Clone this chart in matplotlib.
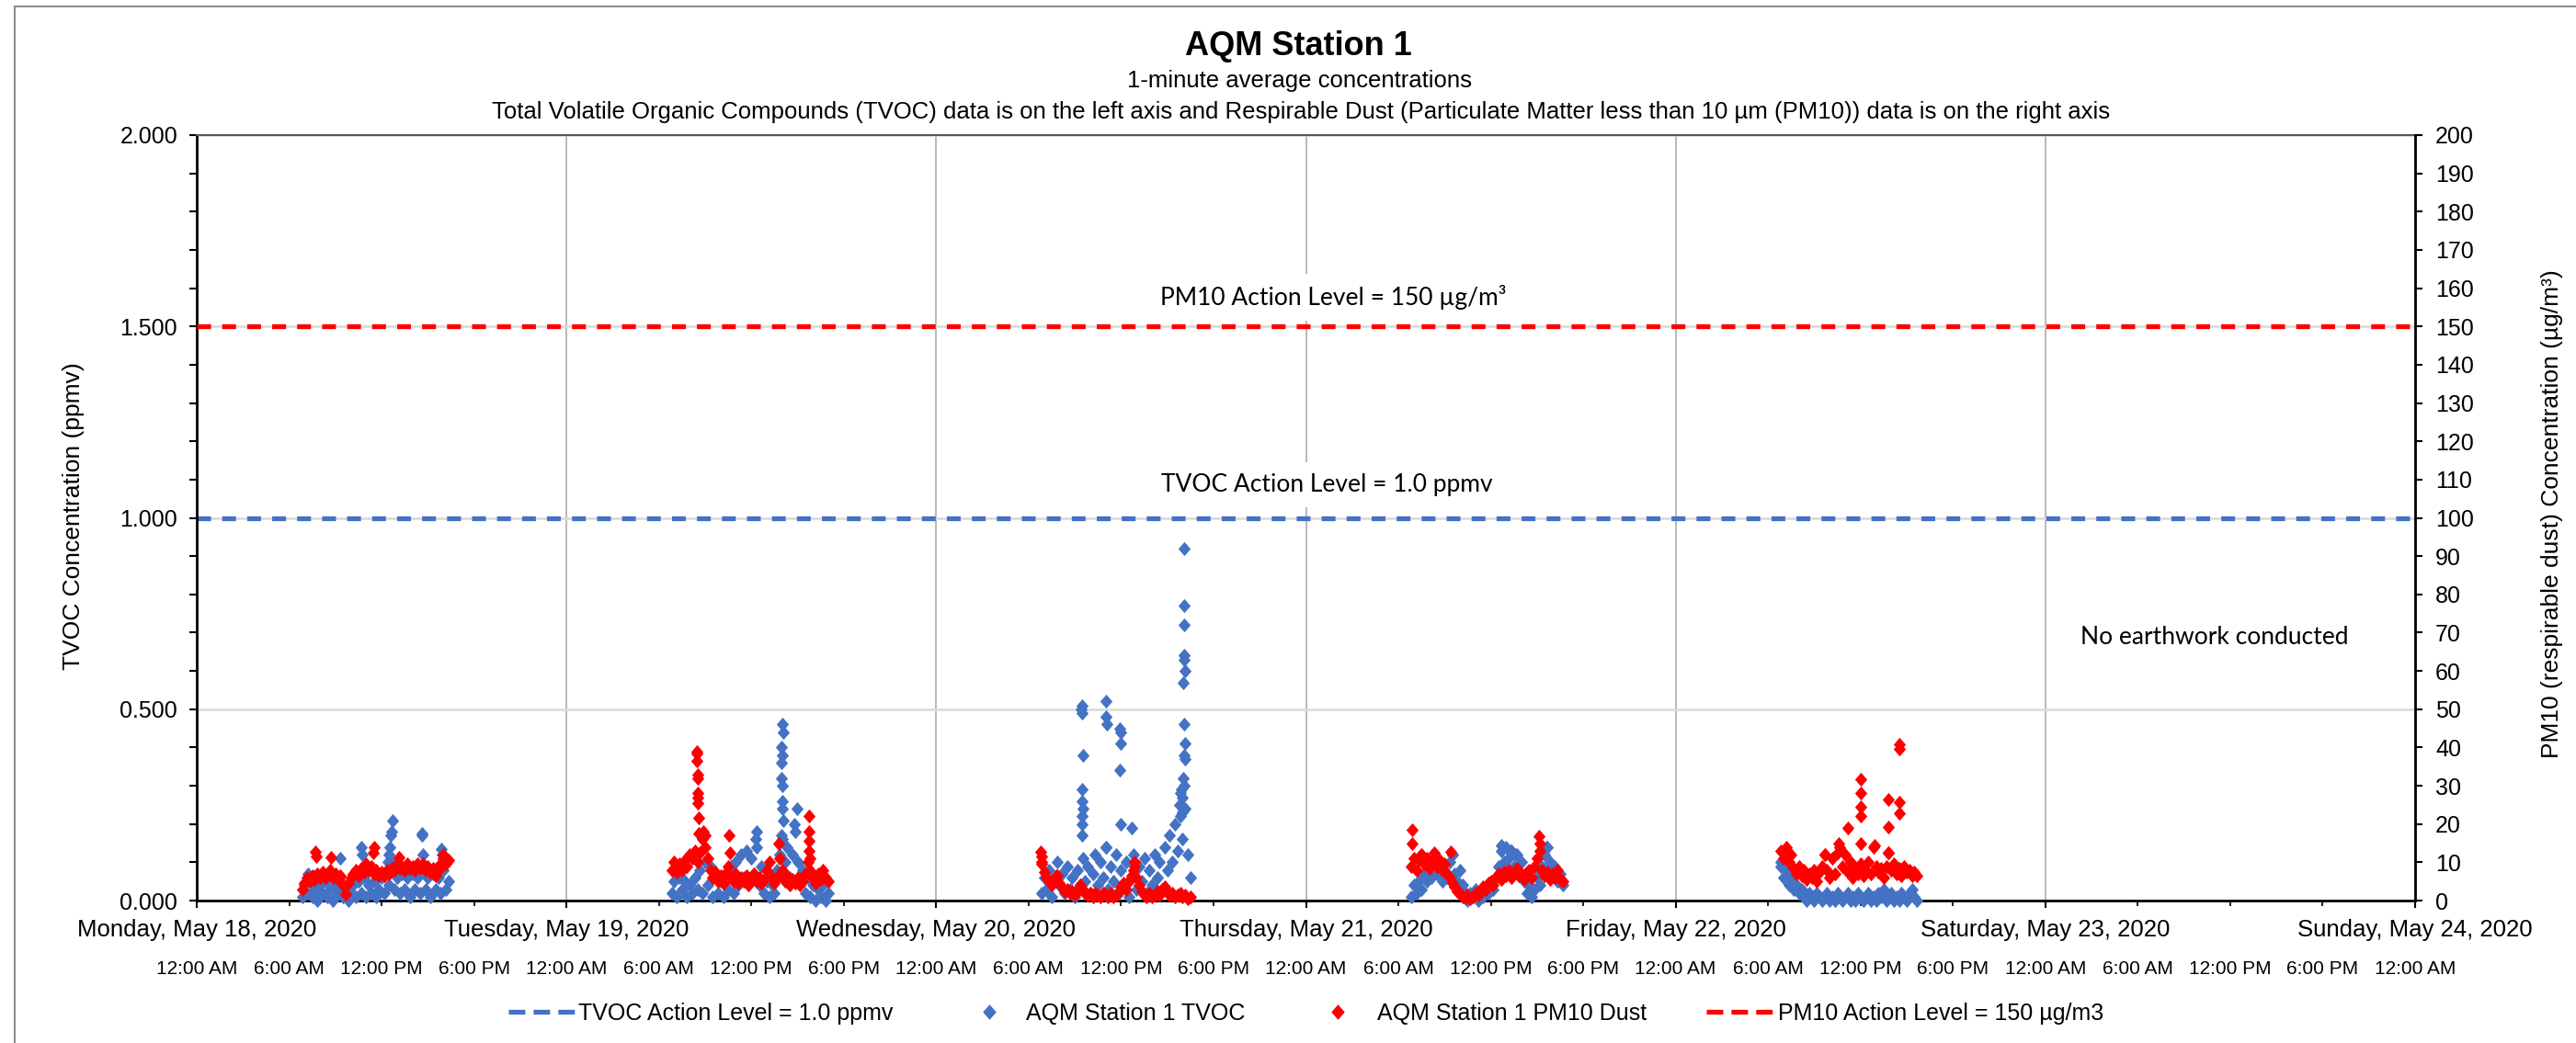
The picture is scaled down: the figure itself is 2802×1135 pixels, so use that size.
import numpy as np
import matplotlib
matplotlib.use('Agg')
from matplotlib import pyplot as plt
from matplotlib.lines import Line2D
from matplotlib.path import Path
from matplotlib.patches import Rectangle
from matplotlib.ticker import MultipleLocator, FormatStrFormatter
import matplotlib.transforms as mtransforms

plt.rcParams['font.family'] = ['Liberation Sans', 'DejaVu Sans']

day_labels = ['Monday, May 18, 2020', 'Tuesday, May 19, 2020', 'Wednesday, May 20, 2020',
              'Thursday, May 21, 2020', 'Friday, May 22, 2020', 'Saturday, May 23, 2020',
              'Sunday, May 24, 2020']
time_labels = ['12:00 AM', '6:00 AM', '12:00 PM', '6:00 PM'] * 6 + ['12:00 AM']

tvoc_action = 1.0     # ppmv
pm10_action = 150     # ug/m3

# readings every 10 minutes from 6:50 AM on each working day
start_hour = 6 + 50 / 60

mon_tvoc = [0.01, 0.04, 0.02, 0.05, 0.01, 0.03, 0.00, 0.04, 0.02, 0.05,
            0.01, 0.03, 0.00, 0.04, 0.02, 0.06, 0.01, 0.03, 0.00, 0.02,
            0.04, 0.01, 0.05, 0.02, 0.06, 0.01, 0.04, 0.02, 0.05, 0.01,
            0.03, 0.06, 0.02, 0.08, 0.04, 0.10, 0.03, 0.06, 0.02, 0.07,
            0.03, 0.06, 0.01, 0.07, 0.03, 0.06, 0.02, 0.08, 0.03, 0.06,
            0.01, 0.07, 0.03, 0.06, 0.02, 0.08, 0.03, 0.05]
mon_pm10 = [3.0, 4.5, 6.0, 5.0, 6.5, 5.5, 7.0, 6.0, 7.5, 6.0,
            7.0, 8.0, 6.0, 7.0, 5.5, 6.5, 4.0, 1.7, 4.5, 6.0,
            7.0, 8.0, 6.5, 8.5, 7.5, 9.5, 8.0, 9.0, 7.0, 8.0,
            6.5, 7.5, 6.5, 8.0, 7.0, 8.5, 8.0, 9.5, 8.5, 9.0,
            8.0, 9.5, 8.5, 9.0, 8.0, 9.5, 8.5, 9.5, 8.0, 9.0,
            7.5, 8.5, 6.5, 8.0, 9.5, 11.0, 9.5, 10.5]

tue_tvoc = [0.02, 0.05, 0.01, 0.06, 0.03, 0.05, 0.01, 0.04, 0.02, 0.06,
            0.03, 0.08, 0.02, 0.10, 0.04, 0.09, 0.01, 0.06, 0.02, 0.05,
            0.01, 0.07, 0.03, 0.09, 0.02, 0.10, 0.04, 0.12, 0.06, 0.13,
            0.05, 0.11, 0.07, 0.14, 0.04, 0.09, 0.02, 0.05, 0.01, 0.04,
            0.02, 0.08, 0.12, 0.16, 0.10, 0.14, 0.06, 0.12, 0.18, 0.10,
            0.05, 0.08, 0.02, 0.06, 0.01, 0.04, 0.00, 0.03, 0.01, 0.04,
            0.00, 0.02]
tue_pm10 = [8.0, 10.0, 7.5, 9.5, 8.0, 10.5, 9.0, 12.0, 11.0, 13.0,
            10.0, 12.5, 16.0, 14.0, 11.0, 8.0, 6.0, 7.5, 5.0, 6.5,
            4.5, 7.0, 9.0, 6.0, 5.0, 7.0, 4.5, 6.0, 5.0, 6.5,
            4.0, 5.5, 7.0, 5.0, 6.0, 4.5, 5.5, 8.0, 10.0, 6.0,
            4.5, 6.0, 11.0, 8.0, 5.0, 6.5, 4.0, 5.5, 4.5, 6.0,
            4.0, 5.0, 7.0, 10.0, 8.0, 6.0, 4.5, 7.0, 5.5, 8.0,
            6.0, 5.0]

wed_tvoc = [0.02, 0.06, 0.03, 0.08, 0.01, 0.05, 0.10, 0.04, 0.07, 0.02,
            0.09, 0.03, 0.06, 0.01, 0.08, 0.04, 0.11, 0.05, 0.09, 0.02,
            0.07, 0.12, 0.04, 0.10, 0.06, 0.14, 0.03, 0.09, 0.05, 0.12,
            0.02, 0.08, 0.04, 0.10, 0.01, 0.06, 0.12, 0.03, 0.09, 0.05,
            0.11, 0.02, 0.08, 0.04, 0.12, 0.06, 0.10, 0.03, 0.14, 0.08,
            0.17, 0.10, 0.20, 0.13, 0.22, 0.16, 0.24, 0.12, 0.06]
wed_pm10 = [10.0, 7.5, 6.0, 5.0, 4.0, 5.5, 6.5, 4.5, 3.5, 2.5,
            3.0, 2.0, 2.5, 1.5, 3.0, 4.0, 3.0, 2.0, 1.5, 2.0,
            1.0, 2.0, 1.5, 1.0, 2.0, 1.5, 1.0, 2.0, 1.0, 1.5,
            2.5, 3.5, 4.5, 3.0, 5.0, 6.5, 8.0, 6.0, 4.0, 2.5,
            1.5, 1.0, 2.0, 1.0, 1.5, 2.5, 1.5, 3.0, 3.5, 2.5,
            1.5, 2.0, 1.0, 1.5, 2.0, 1.0, 1.5, 0.5, 1.0]

thu_tvoc = [0.01, 0.04, 0.02, 0.05, 0.03, 0.07, 0.05, 0.09, 0.06, 0.10,
            0.07, 0.09, 0.05, 0.08, 0.06, 0.10, 0.12, 0.07, 0.05, 0.08,
            0.04, 0.02, 0.00, 0.02, 0.01, 0.03, 0.00, 0.02, 0.01, 0.03,
            0.02, 0.04, 0.03, 0.06, 0.09, 0.13, 0.10, 0.14, 0.11, 0.13,
            0.09, 0.12, 0.07, 0.10, 0.05, 0.02, 0.04, 0.01, 0.03, 0.06,
            0.04, 0.09, 0.12, 0.14, 0.10, 0.07, 0.09, 0.05, 0.07, 0.04]
thu_pm10 = [9.0, 11.0, 8.0, 10.5, 12.0, 9.5, 11.0, 8.5, 10.0, 12.5,
            9.0, 10.5, 8.0, 9.5, 7.0, 6.0, 4.5, 3.5, 2.5, 2.0,
            1.0, 0.8, 1.5, 0.5, 1.0, 2.0, 1.5, 2.5, 3.5, 3.0,
            4.5, 5.0, 4.0, 6.0, 7.0, 5.5, 7.5, 6.5, 8.0, 6.0,
            7.5, 8.5, 6.5, 7.0, 5.5, 7.5, 8.0, 6.0, 9.0, 11.0,
            13.0, 8.0, 6.5, 7.5, 5.5, 7.0, 6.0, 8.0, 5.5, 5.0]

fri_tvoc = [0.09, 0.06, 0.08, 0.04, 0.06, 0.03, 0.04, 0.02, 0.03, 0.01,
            0.00, 0.02, 0.01, 0.00, 0.02, 0.01, 0.00, 0.01, 0.02, 0.00,
            0.01, 0.00, 0.02, 0.01, 0.00, 0.01, 0.02, 0.00, 0.01, 0.00,
            0.02, 0.01, 0.00, 0.01, 0.02, 0.00, 0.01, 0.00, 0.02, 0.01,
            0.03, 0.00, 0.01, 0.02, 0.00, 0.01, 0.00, 0.02, 0.01, 0.00,
            0.02, 0.03, 0.01, 0.00]
fri_pm10 = [13.0, 11.0, 14.0, 10.0, 12.0, 8.5, 7.0, 9.0, 6.5, 8.0,
            5.5, 7.0, 6.0, 8.0, 5.0, 7.5, 9.0, 12.0, 8.0, 6.0,
            11.0, 7.0, 12.5, 14.0, 9.0, 12.0, 7.5, 10.0, 6.0, 8.5,
            7.0, 9.5, 6.5, 8.0, 10.0, 7.0, 14.0, 9.0, 7.5, 8.5,
            6.0, 9.0, 12.5, 8.0, 9.5, 7.0, 8.5, 6.5, 9.0, 7.5,
            8.0, 6.5, 7.5, 6.5]

# short bursts above the band: hour of day and reading
mon_tvoc_pk_h = [7.2, 9.3, 10.7, 10.75, 12.4, 12.5, 12.55, 12.6, 12.65, 12.7, 14.6, 14.65, 14.7, 15.9, 15.95]
mon_tvoc_pk = [0.07, 0.11, 0.14, 0.12, 0.10, 0.12, 0.14, 0.17, 0.18, 0.21, 0.175, 0.17, 0.12, 0.135, 0.12]
mon_pm10_pk_h = [7.7, 7.75, 8.7, 11.45, 11.5, 13.1, 16.0]
mon_pm10_pk = [12.8, 11.5, 11.2, 12.5, 14.0, 11.2, 12.0]

tue_tvoc_pk_h = [13.95, 13.96, 13.97, 13.98, 13.99, 14.0, 14.01, 14.02, 14.04, 14.05, 14.06,
                 14.95, 14.8, 12.36, 12.3]
tue_tvoc_pk = [0.32, 0.17, 0.36, 0.40, 0.24, 0.38, 0.26, 0.46, 0.30, 0.44, 0.21,
               0.24, 0.20, 0.18, 0.16]
tue_pm10_pk_h = [8.45, 8.46, 8.48, 8.5, 8.5, 8.52, 8.53, 8.55, 8.56, 8.58, 8.9, 9.0,
                 10.57, 10.6, 13.75, 15.72, 15.74, 15.75, 15.76, 15.8]
tue_pm10_pk = [39.0, 38.5, 36.5, 33.0, 32.0, 28.0, 27.0, 25.5, 21.5, 17.5, 18.0, 17.0,
               17.0, 12.5, 15.0, 15.5, 22.0, 13.0, 18.0, 11.0]

wed_tvoc_pk_h = [9.43, 9.45, 9.47, 9.5, 9.48, 9.46, 9.5, 9.49, 9.45, 9.47,
                 11.0, 11.05, 11.07, 11.0, 11.9, 11.95, 11.97, 11.93, 12.0, 12.7,
                 16.1, 16.12, 16.1, 16.08, 16.1, 16.15, 16.05, 16.12, 16.15, 16.1,
                 16.13, 16.05, 16.08, 15.9, 15.85, 16.0, 15.8, 15.95]
wed_tvoc_pk = [0.50, 0.51, 0.49, 0.38, 0.29, 0.26, 0.24, 0.22, 0.20, 0.17,
               0.52, 0.48, 0.46, 0.14, 0.45, 0.44, 0.41, 0.34, 0.20, 0.19,
               0.92, 0.77, 0.72, 0.64, 0.63, 0.60, 0.57, 0.46, 0.41, 0.38,
               0.37, 0.32, 0.30, 0.29, 0.28, 0.27, 0.25, 0.23]
wed_pm10_pk_h = [6.8, 6.83, 6.85, 7.8, 12.85, 12.9]
wed_pm10_pk = [12.7, 9.6, 11.5, 6.4, 9.0, 10.0]

thu_tvoc_pk_h = [9.5, 12.7, 13.3, 13.6, 15.6]
thu_tvoc_pk = [0.12, 0.145, 0.13, 0.12, 0.14]
thu_pm10_pk_h = [6.9, 6.92, 7.5, 9.4, 15.15, 15.17]
thu_pm10_pk = [18.5, 15.0, 12.0, 12.8, 16.8, 15.0]

fri_tvoc_pk_h = [6.85, 7.0, 7.3]
fri_tvoc_pk = [0.10, 0.09, 0.07]
fri_pm10_pk_h = [9.7, 10.6, 11.2, 12.0, 12.02, 12.0, 12.03, 12.01, 12.9,
                 13.8, 13.82, 13.8, 14.5, 14.52, 14.5, 14.53]
fri_pm10_pk = [12.0, 15.0, 19.0, 31.6, 28.0, 24.4, 22.0, 15.0, 14.4,
               26.4, 19.2, 12.4, 40.8, 39.6, 25.6, 22.8]

tvoc_days = [(mon_tvoc, mon_tvoc_pk_h, mon_tvoc_pk), (tue_tvoc, tue_tvoc_pk_h, tue_tvoc_pk),
             (wed_tvoc, wed_tvoc_pk_h, wed_tvoc_pk), (thu_tvoc, thu_tvoc_pk_h, thu_tvoc_pk),
             (fri_tvoc, fri_tvoc_pk_h, fri_tvoc_pk)]
pm10_days = [(mon_pm10, mon_pm10_pk_h, mon_pm10_pk), (tue_pm10, tue_pm10_pk_h, tue_pm10_pk),
             (wed_pm10, wed_pm10_pk_h, wed_pm10_pk), (thu_pm10, thu_pm10_pk_h, thu_pm10_pk),
             (fri_pm10, fri_pm10_pk_h, fri_pm10_pk)]


def collect(days):
    # hours since Monday 12:00 AM
    xs, ys = [], []
    for d, (vals, pk_h, pk) in enumerate(days):
        xs.append(d * 24 + start_hour + np.arange(len(vals)) / 6)
        ys.append(np.asarray(vals))
        xs.append(d * 24 + np.asarray(pk_h))
        ys.append(np.asarray(pk))
    return np.concatenate(xs), np.concatenate(ys)


tvoc_x, tvoc_y = collect(tvoc_days)
pm10_x, pm10_y = collect(pm10_days)

blue = '#4472C4'
red = '#FF0000'
diamond = Path([(0, 1), (0.87, 0), (0, -1), (-0.87, 0), (0, 1)],
               [Path.MOVETO, Path.LINETO, Path.LINETO, Path.LINETO, Path.CLOSEPOLY])
dash = (0, (2.85, 2.3))

W, H = 2802, 1135
fig = plt.figure(figsize=(W / 100, H / 100), dpi=100)
L, R, T, B = 214, 2627, 147, 980
ax = fig.add_axes([L / W, 1 - B / H, (R - L) / W, (B - T) / H])
ax2 = ax.twinx()

ax.set_xlim(0, 144)
ax.set_ylim(0, 2)
ax2.set_ylim(0, 200)

ax.xaxis.set_major_locator(MultipleLocator(24))
ax.xaxis.set_minor_locator(MultipleLocator(6))
ax.yaxis.set_major_locator(MultipleLocator(0.5))
ax.yaxis.set_minor_locator(MultipleLocator(0.1))
ax.yaxis.set_major_formatter(FormatStrFormatter('%.3f'))
ax2.yaxis.set_major_locator(MultipleLocator(10))
ax.set_xticklabels([])

ax.grid(axis='x', which='major', color='#a6a6a6', lw=1.1)
ax.grid(axis='y', which='major', color='#d9d9d9', lw=1.8)
ax.set_axisbelow(True)

ax.tick_params(axis='y', which='both', direction='out', length=6, width=1.5, labelsize=18, pad=9)
ax.tick_params(axis='x', which='major', direction='out', length=6, width=1.5)
ax.tick_params(axis='x', which='minor', direction='out', length=4, width=1.2)
ax2.tick_params(axis='y', which='both', direction='out', length=6, width=1.5, labelsize=18, pad=10)

for s in ['left', 'bottom']:
    ax.spines[s].set_linewidth(2)
    ax.spines[s].set_color('black')
ax.spines['right'].set_visible(False)
ax.spines['top'].set_color('#595959')
ax.spines['top'].set_linewidth(1.5)
for s in ['left', 'bottom', 'top']:
    ax2.spines[s].set_visible(False)
ax2.spines['right'].set_linewidth(2)
ax2.spines['right'].set_color('black')

# action levels and readings
ax.axhline(tvoc_action, color=blue, lw=3.8, ls=dash, zorder=2)
ax.plot(tvoc_x, tvoc_y, ls='none', marker=diamond, ms=11, mew=0, color=blue,
        zorder=3, clip_on=False)
ax2.plot(pm10_x, pm10_y, ls='none', marker=diamond, ms=11, mew=0, color=red,
         zorder=3, clip_on=False)
ax2.axhline(pm10_action, color=red, lw=3.8, ls=dash, zorder=2)

box = dict(boxstyle='square,pad=0.45', fc='white', ec='none')
ax2.text(73.76, pm10_action + 7.7, 'PM10 Action Level = 150 µg/m³', ha='center', va='center',
         fontsize=19, family=['Lato', 'DejaVu Sans'], bbox=box, zorder=5)
ax2.text(73.34, tvoc_action * 100 + 8.7, 'TVOC Action Level = 1.0 ppmv', ha='center', va='center',
         fontsize=19, family=['Lato', 'DejaVu Sans'], bbox=box, zorder=5)
ax2.text(131.0, 68.7, 'No earthwork conducted', ha='center', va='center',
         fontsize=19, family=['Lato', 'DejaVu Sans'], zorder=5)

# two rows of x labels
tr = mtransforms.blended_transform_factory(ax.transData, ax.transAxes)
for i, lab in enumerate(day_labels):
    ax.text(i * 24, (B - 1012) / (B - T), lab, transform=tr, ha='center', va='center', fontsize=18.5)
for i, lab in enumerate(time_labels):
    ax.text(i * 6, (B - 1055) / (B - T), lab, transform=tr, ha='center', va='center', fontsize=15)

fig.text(1412 / W, 1 - 50 / H, 'AQM Station 1', ha='center', va='center', fontsize=26, fontweight='bold')
fig.text(1414 / W, 1 - 88 / H, '1-minute average concentrations', ha='center', va='center', fontsize=18.5)
fig.text(1415 / W, 1 - 122 / H,
         'Total Volatile Organic Compounds (TVOC) data is on the left axis and Respirable Dust '
         '(Particulate Matter less than 10 µm (PM10)) data is on the right axis',
         ha='center', va='center', fontsize=18.5)
fig.text(80 / W, 1 - 562 / H, 'TVOC Concentration (ppmv)', rotation=90, ha='center', va='center', fontsize=19)
fig.text(2776 / W, 1 - 559 / H, 'PM10 (respirable dust) Concentration (µg/m³)', rotation=90,
         ha='center', va='center', fontsize=19)

# legend entries along the bottom
h_tvoc_lvl = Line2D([], [], color=blue, lw=3.8, ls=(0, (3.4, 1.7)))
h_tvoc = Line2D([], [], ls='none', marker=diamond, ms=12, mew=0, color=blue)
h_pm10 = Line2D([], [], ls='none', marker=diamond, ms=12, mew=0, color=red)
h_pm10_lvl = Line2D([], [], color=red, lw=3.8, ls=(0, (3.4, 1.7)))
entries = [(h_tvoc_lvl, 'TVOC Action Level = 1.0 ppmv', 553, 2.88, 0.16),
           (h_tvoc, 'AQM Station 1 TVOC', 1063, 1.0, 1.1),
           (h_pm10, 'AQM Station 1 PM10 Dust', 1442, 1.0, 1.22),
           (h_pm10_lvl, 'PM10 Action Level = 150 µg/m3', 1856, 2.88, 0.24)]
for h, lab, x0, hl, tp in entries:
    fig.legend([h], [lab], loc='center left', bbox_to_anchor=(x0 / W, 1 - 1103 / H), frameon=False,
               fontsize=18, borderpad=0, borderaxespad=0, handlelength=hl, handletextpad=tp)

fig.patches.append(Rectangle((16 / W, -0.1), 1.2, 1.1 - 7 / H, transform=fig.transFigure,
                             fill=False, ec='#8c8c8c', lw=1.5))

fig.savefig('out.png', dpi=100)
